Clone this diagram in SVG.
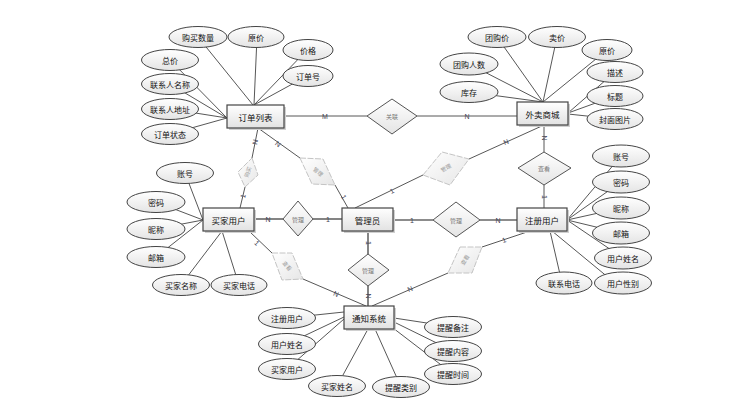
<svg xmlns="http://www.w3.org/2000/svg" width="740" height="416" viewBox="0 0 740 416">
<defs>
<linearGradient id="gE" x1="0" y1="0" x2="0" y2="1"><stop offset="0" stop-color="#ffffff"/><stop offset="1" stop-color="#e4e4e4"/></linearGradient>
<linearGradient id="gR" x1="0" y1="0" x2="0" y2="1"><stop offset="0" stop-color="#ffffff"/><stop offset="1" stop-color="#e2e2e2"/></linearGradient>
<linearGradient id="gS" x1="0" y1="0" x2="1" y2="1"><stop offset="0" stop-color="#ffffff"/><stop offset="1" stop-color="#e6e6e6"/></linearGradient>
</defs>
<style>
text{font-family:"Noto Sans CJK SC","Liberation Sans",sans-serif;text-anchor:middle;dominant-baseline:central}
.e{fill:url(#gE);stroke:#444;stroke-width:1}
.r{fill:url(#gR);stroke:#444;stroke-width:1.2}
.sh{fill:#d0d0d0}
.d{fill:url(#gE);stroke:#555;stroke-width:1}
.s{fill:url(#gS);stroke:#c4c4c4;stroke-width:1;stroke-dasharray:6 1.5}
.t{font-size:8px;fill:#111}
.te{font-size:8.5px;fill:#111}
.td{font-size:6px;fill:#777}
.ts{font-size:5.5px;fill:#999}
.l{stroke:#444;stroke-width:0.9;fill:none}
.lb{stroke:#666;stroke-width:1.6;fill:none}
.c{font-family:"Liberation Sans",sans-serif;font-size:7px;fill:#445}
</style>
<rect width="740" height="416" fill="#ffffff"/>
<g id="connectors">
<!-- 订单列表 attributes -->
<line class="l" x1="198" y1="37" x2="253" y2="105"/>
<line class="l" x1="257" y1="37" x2="254" y2="105"/>
<line class="l" x1="307" y1="50" x2="254" y2="105"/>
<line class="l" x1="307" y1="76" x2="254" y2="105"/>
<line class="l" x1="170" y1="60" x2="227" y2="118"/>
<line class="l" x1="170" y1="84" x2="227" y2="118"/>
<line class="l" x1="170" y1="109" x2="227" y2="118"/>
<line class="l" x1="170" y1="134" x2="227" y2="118"/>
<!-- 外卖商城 attributes -->
<line class="l" x1="497" y1="37" x2="543" y2="102"/>
<line class="l" x1="557" y1="37" x2="543" y2="102"/>
<line class="l" x1="607" y1="50" x2="543" y2="102"/>
<line class="l" x1="469" y1="64" x2="543" y2="102"/>
<line class="l" x1="469" y1="92" x2="543" y2="102"/>
<line class="l" x1="615" y1="72" x2="568" y2="113"/>
<line class="l" x1="615" y1="96" x2="568" y2="113"/>
<line class="l" x1="615" y1="119" x2="568" y2="114"/>
<!-- 买家用户 attributes -->
<line class="l" x1="185" y1="173" x2="203" y2="220"/>
<line class="l" x1="156" y1="202" x2="203" y2="220"/>
<line class="l" x1="156" y1="229" x2="203" y2="220"/>
<line class="l" x1="156" y1="257" x2="203" y2="220"/>
<line class="l" x1="181" y1="285" x2="222" y2="231"/>
<line class="l" x1="239" y1="285" x2="222" y2="231"/>
<!-- 注册用户 attributes -->
<line class="l" x1="621" y1="156" x2="567" y2="220"/>
<line class="l" x1="621" y1="182" x2="567" y2="220"/>
<line class="l" x1="621" y1="208" x2="567" y2="220"/>
<line class="l" x1="621" y1="233" x2="567" y2="220"/>
<line class="l" x1="623" y1="258" x2="567" y2="220"/>
<line class="l" x1="615" y1="283" x2="552" y2="231"/>
<line class="l" x1="562" y1="283" x2="550" y2="231"/>
<!-- 通知系统 attributes -->
<line class="l" x1="287" y1="318" x2="344" y2="312"/>
<line class="l" x1="287" y1="344" x2="344" y2="317"/>
<line class="l" x1="287" y1="369" x2="344" y2="319"/>
<line class="l" x1="337" y1="386" x2="368" y2="329"/>
<line class="l" x1="401" y1="387" x2="375" y2="329"/>
<line class="l" x1="453" y1="327" x2="394" y2="318"/>
<line class="l" x1="453" y1="351" x2="394" y2="322"/>
<line class="l" x1="453" y1="374" x2="393" y2="328"/>
<!-- relationships -->
<line class="l" x1="284" y1="116" x2="367" y2="116"/>
<line class="l" x1="417" y1="116" x2="517" y2="116"/>
<polyline class="l" points="258,128 252,158"/>
<polyline class="l" points="245,187 240,208"/>
<polyline class="l" points="258,128 300,158"/>
<polyline class="l" points="335,185 348,208"/>
<polyline class="l" points="355,208 423,175"/>
<polyline class="l" points="469,159 544,125"/>
<line class="l" x1="544" y1="125" x2="544" y2="152"/>
<line class="l" x1="544" y1="185" x2="544" y2="208"/>
<line class="lb" x1="254" y1="219" x2="283" y2="219"/>
<line class="lb" x1="313" y1="219" x2="342" y2="219"/>
<line class="lb" x1="393" y1="220" x2="433" y2="220"/>
<line class="lb" x1="480" y1="220" x2="517" y2="220"/>
<line class="lb" x1="368" y1="232" x2="368" y2="254"/>
<line class="lb" x1="368" y1="286" x2="368" y2="306"/>
<polyline class="l" points="250,232 272,253"/>
<polyline class="l" points="303,279 366,306"/>
<polyline class="l" points="527,232 482,247"/>
<polyline class="l" points="448,273 372,306"/>
<!-- cardinality labels -->
<text class="c" x="325" y="116">M</text>
<text class="c" x="467" y="116">N</text>
<text class="c" x="255" y="142" transform="rotate(-78 255 142)">N</text>
<text class="c" x="243" y="196" transform="rotate(-78 243 196)">1</text>
<text class="c" x="278" y="144" transform="rotate(36 278 144)">N</text>
<text class="c" x="344" y="197" transform="rotate(60 344 197)">1</text>
<text class="c" x="392" y="191" transform="rotate(-26 392 191)">1</text>
<text class="c" x="506" y="142" transform="rotate(-24 506 142)">N</text>
<text class="c" x="544" y="138" transform="rotate(90 544 138)">N</text>
<text class="c" x="544" y="197" transform="rotate(90 544 197)">1</text>
<text class="c" x="268" y="219">N</text>
<text class="c" x="328" y="219">1</text>
<text class="c" x="412" y="220">1</text>
<text class="c" x="498" y="220">N</text>
<text class="c" x="368" y="243" transform="rotate(90 368 243)">1</text>
<text class="c" x="368" y="296" transform="rotate(90 368 296)">N</text>
<text class="c" x="257" y="243" transform="rotate(44 257 243)">1</text>
<text class="c" x="336" y="294" transform="rotate(23 336 294)">N</text>
<text class="c" x="504" y="240" transform="rotate(-18 504 240)">1</text>
<text class="c" x="410" y="289" transform="rotate(-24 410 289)">N</text>
</g>
<!-- entities -->
<g id="order"><rect class="sh" x="229" y="107" width="57" height="23"/><rect class="r" x="227" y="105" width="57" height="23"/><text class="te" x="255.5" y="116.5">订单列表</text></g>
<g id="shop"><rect class="sh" x="519" y="104" width="51" height="23"/><rect class="r" x="517" y="102" width="51" height="23"/><text class="te" x="542.5" y="113.5">外卖商城</text></g>
<g id="buyer"><rect class="sh" x="205" y="210" width="51" height="23"/><rect class="r" x="203" y="208" width="51" height="23"/><text class="te" x="228.5" y="219.5">买家用户</text></g>
<g id="admin"><rect class="sh" x="344" y="210" width="51" height="23"/><rect class="r" x="342" y="208" width="51" height="23"/><text class="te" x="367.5" y="219.5">管理员</text></g>
<g id="reguser"><rect class="sh" x="519" y="210" width="50" height="23"/><rect class="r" x="517" y="208" width="50" height="23"/><text class="te" x="542" y="219.5">注册用户</text></g>
<g id="notice"><rect class="sh" x="346" y="308" width="50" height="23"/><rect class="r" x="344" y="306" width="50" height="23"/><text class="te" x="369" y="317.5">通知系统</text></g>
<!-- relationships -->
<g id="rel-link"><polygon class="d" points="392,99 417,116 392,134 367,116"/><text class="td" x="392" y="116">关联</text></g>
<g id="rel-buyer-admin"><polygon class="d" points="298,201 313,219 298,236 283,219"/><text class="td" x="298" y="219">管理</text></g>
<g id="rel-admin-reg"><polygon class="d" points="456,202 480,220 456,237 433,220"/><text class="td" x="456" y="220">管理</text></g>
<g id="rel-admin-notice"><polygon class="d" points="368,254 389,270 368,286 348,270"/><text class="td" x="368" y="270">管理</text></g>
<g id="rel-shop-reg"><polygon class="d" points="544,152 571,168 544,185 518,168"/><text class="td" x="544" y="168">查看</text></g>
<g id="rel-order-buyer"><polygon class="s" points="252,158 258,175 245,187 238,172"/><text class="ts" x="248" y="172" transform="rotate(-70 248 172)">购买</text></g>
<g id="rel-order-admin"><polygon class="s" points="300,158 323,159 335,185 312,184"/><text class="ts" x="318" y="172" transform="rotate(40 318 172)">管理</text></g>
<g id="rel-admin-shop"><polygon class="s" points="423,175 442,152 469,159 450,185"/><text class="ts" x="446" y="168" transform="rotate(-30 446 168)">管理</text></g>
<g id="rel-buyer-notice"><polygon class="s" points="272,253 292,253 303,279 282,280"/><text class="ts" x="287" y="266" transform="rotate(50 287 266)">查看</text></g>
<g id="rel-reg-notice"><polygon class="s" points="460,247 482,247 472,273 448,273"/><text class="ts" x="465" y="260" transform="rotate(-58 465 260)">查看</text></g>
<!-- attributes: 订单列表 -->
<g id="a-gmsl"><ellipse class="e" cx="198" cy="37" rx="29" ry="10.5"/><text class="t" x="198" y="37">购买数量</text></g>
<g id="a-yj1"><ellipse class="e" cx="256" cy="37" rx="28" ry="10.5"/><text class="t" x="256" y="37">原价</text></g>
<g id="a-jg"><ellipse class="e" cx="308" cy="50" rx="25" ry="10.5"/><text class="t" x="308" y="50">价格</text></g>
<g id="a-ddh"><ellipse class="e" cx="308" cy="76" rx="25" ry="10.5"/><text class="t" x="308" y="76">订单号</text></g>
<g id="a-zj"><ellipse class="e" cx="170" cy="60" rx="28.5" ry="10.5"/><text class="t" x="170" y="60">总价</text></g>
<g id="a-lxrmc"><ellipse class="e" cx="170" cy="84" rx="28.5" ry="10.5"/><text class="t" x="170" y="84">联系人名称</text></g>
<g id="a-lxrdz"><ellipse class="e" cx="170" cy="109" rx="28.5" ry="10.5"/><text class="t" x="170" y="109">联系人地址</text></g>
<g id="a-ddzt"><ellipse class="e" cx="170" cy="134" rx="28.5" ry="10.5"/><text class="t" x="170" y="134">订单状态</text></g>
<!-- attributes: 外卖商城 -->
<g id="a-tgj"><ellipse class="e" cx="497" cy="37" rx="29" ry="10.5"/><text class="t" x="497" y="37">团购价</text></g>
<g id="a-mj"><ellipse class="e" cx="557" cy="37" rx="28.5" ry="10.5"/><text class="t" x="557" y="37">卖价</text></g>
<g id="a-yj2"><ellipse class="e" cx="607" cy="50" rx="25" ry="10.5"/><text class="t" x="607" y="50">原价</text></g>
<g id="a-tgrs"><ellipse class="e" cx="469" cy="64" rx="29" ry="11"/><text class="t" x="469" y="64">团购人数</text></g>
<g id="a-kc"><ellipse class="e" cx="469" cy="92" rx="29" ry="10.5"/><text class="t" x="469" y="92">库存</text></g>
<g id="a-ms"><ellipse class="e" cx="615" cy="72" rx="28" ry="10.5"/><text class="t" x="615" y="72">描述</text></g>
<g id="a-bt"><ellipse class="e" cx="615" cy="96" rx="28" ry="10.5"/><text class="t" x="615" y="96">标题</text></g>
<g id="a-fmtp"><ellipse class="e" cx="615" cy="119" rx="28" ry="10.5"/><text class="t" x="615" y="119">封面图片</text></g>
<!-- attributes: 买家用户 -->
<g id="a-zh1"><ellipse class="e" cx="185" cy="173" rx="28.5" ry="10.5"/><text class="t" x="185" y="173">账号</text></g>
<g id="a-mm1"><ellipse class="e" cx="156" cy="202" rx="29" ry="10.5"/><text class="t" x="156" y="202">密码</text></g>
<g id="a-nc1"><ellipse class="e" cx="156" cy="229" rx="29" ry="10.5"/><text class="t" x="156" y="229">昵称</text></g>
<g id="a-yx1"><ellipse class="e" cx="156" cy="257" rx="29" ry="10.5"/><text class="t" x="156" y="257">邮箱</text></g>
<g id="a-mjmc"><ellipse class="e" cx="181" cy="285" rx="28.5" ry="10.5"/><text class="t" x="181" y="285">买家名称</text></g>
<g id="a-mjdh"><ellipse class="e" cx="239" cy="285" rx="28" ry="10.5"/><text class="t" x="239" y="285">买家电话</text></g>
<!-- attributes: 注册用户 -->
<g id="a-zh2"><ellipse class="e" cx="621" cy="156" rx="28.5" ry="11"/><text class="t" x="621" y="156">账号</text></g>
<g id="a-mm2"><ellipse class="e" cx="621" cy="182" rx="28.5" ry="11"/><text class="t" x="621" y="182">密码</text></g>
<g id="a-nc2"><ellipse class="e" cx="621" cy="208" rx="28.5" ry="11"/><text class="t" x="621" y="208">昵称</text></g>
<g id="a-yx2"><ellipse class="e" cx="621" cy="233" rx="28.5" ry="11"/><text class="t" x="621" y="233">邮箱</text></g>
<g id="a-yhxm"><ellipse class="e" cx="623" cy="258" rx="28.5" ry="11"/><text class="t" x="623" y="258">用户姓名</text></g>
<g id="a-yhxb"><ellipse class="e" cx="623" cy="283" rx="28.5" ry="11"/><text class="t" x="623" y="283">用户性别</text></g>
<g id="a-lxdh"><ellipse class="e" cx="564" cy="283" rx="28" ry="11"/><text class="t" x="564" y="283">联系电话</text></g>
<!-- attributes: 通知系统 -->
<g id="a-zcyh"><ellipse class="e" cx="287" cy="318" rx="28.5" ry="10.5"/><text class="t" x="287" y="318">注册用户</text></g>
<g id="a-yhxm2"><ellipse class="e" cx="287" cy="344" rx="28.5" ry="10.5"/><text class="t" x="287" y="344">用户姓名</text></g>
<g id="a-mjyh"><ellipse class="e" cx="287" cy="369" rx="28.5" ry="10.5"/><text class="t" x="287" y="369">买家用户</text></g>
<g id="a-mjxm"><ellipse class="e" cx="337" cy="386" rx="28.5" ry="10.5"/><text class="t" x="337" y="386">买家姓名</text></g>
<g id="a-txlb"><ellipse class="e" cx="401" cy="387" rx="28.5" ry="10.5"/><text class="t" x="401" y="387">提醒类别</text></g>
<g id="a-txbz"><ellipse class="e" cx="453" cy="327" rx="28.5" ry="10.5"/><text class="t" x="453" y="327">提醒备注</text></g>
<g id="a-txnr"><ellipse class="e" cx="453" cy="351" rx="28.5" ry="10.5"/><text class="t" x="453" y="351">提醒内容</text></g>
<g id="a-txsj"><ellipse class="e" cx="453" cy="374" rx="28.5" ry="10.5"/><text class="t" x="453" y="374">提醒时间</text></g>
</svg>
